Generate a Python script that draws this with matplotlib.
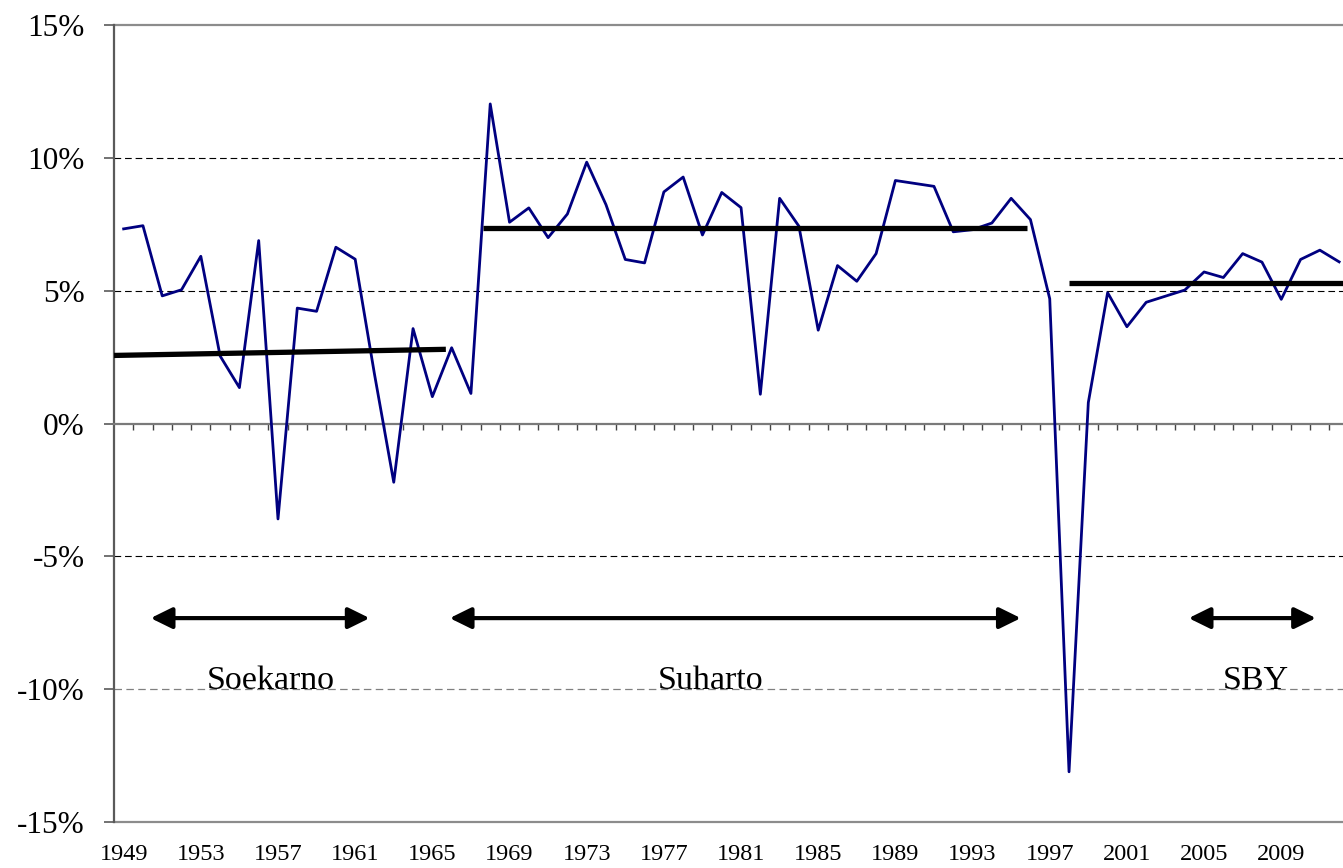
import matplotlib.pyplot as plt
from matplotlib.ticker import FixedLocator, FuncFormatter
import numpy as np

# annual GDP growth, Indonesia (%)
years = np.arange(1949, 2013)
growth = [7.32, 7.44, 4.80, 5.03, 6.29, 2.54, 1.35, 6.88, -3.59, 4.34,
          4.22, 6.63, 6.18, 1.86, -2.21, 3.57, 1.01, 2.85, 1.13, 12.02,
          7.57, 8.11, 6.99, 7.88, 9.83, 8.23, 6.17, 6.04, 8.71, 9.27,
          7.09, 8.69, 8.12, 1.10, 8.47, 7.42, 3.51, 5.94, 5.35, 6.39,
          9.14, 9.03, 8.92, 7.21, 7.29, 7.54, 8.47, 7.67, 4.69, -13.10,
          0.79, 4.92, 3.64, 4.56, 4.79, 5.02, 5.70, 5.49, 6.39, 6.07,
          4.67, 6.17, 6.52, 6.08]

# average-growth lines per era: (x start, x end), (y start, y end)
era_avg_x = [(1948.5, 1965.7), (1967.6, 1995.8), (1998.0, 2012.2)]
era_avg_y = [(2.56, 2.79), (7.36, 7.36), (5.29, 5.29)]

# era arrows and names
era_names = ["Soekarno", "Suharto", "SBY"]
era_arrow_x = [(1950.4, 1961.75), (1965.9, 1995.5), (2004.2, 2010.8)]
era_label_x = [1956.6, 1979.4, 2007.7]
arrow_y = -7.32
label_y = -10

yticks = [-15, -10, -5, 0, 5, 10, 15]
xlabels = list(range(1949, 2013, 4))

plt.rcParams['font.family'] = ['Liberation Serif', 'DejaVu Serif']

fig = plt.figure(figsize=(13.43, 8.68), dpi=100)
ax = fig.add_axes([114/1343, (868-822.3)/868, 1-114/1343, (822.3-24.7)/868])

ax.set_xlim(1948.5, 2012.2)
ax.set_ylim(-15, 15)

# gridlines
for g in [10, 5, -5]:
    ax.axhline(g, color='black', lw=0.8, ls=(0, (6, 3.5)), zorder=1)
ax.axhline(-10, color='#808080', lw=0.9, ls=(0, (6, 3.5)), zorder=1)
ax.axhline(15, color='#8c8c8c', lw=1.6, zorder=1, clip_on=False)
ax.axhline(-15, color='#8c8c8c', lw=1.6, zorder=1, clip_on=False)

# series
ax.plot(years, growth, color='#000080', lw=2.0, zorder=3)

for (x0, x1), (y0, y1) in zip(era_avg_x, era_avg_y):
    ax.plot([x0, x1], [y0, y1], color='black', lw=3.8,
            solid_capstyle='butt', zorder=4, clip_on=False)

for (x0, x1), name, lx in zip(era_arrow_x, era_names, era_label_x):
    ax.annotate('', xy=(x1, arrow_y), xytext=(x0, arrow_y),
                arrowprops=dict(arrowstyle='<|-|>,head_length=0.65,head_width=0.32',
                                mutation_scale=20, lw=3, color='black',
                                shrinkA=0, shrinkB=0), zorder=5)
    ax.text(lx, label_y, name, ha='center', va='baseline', fontsize=24.5, zorder=5)

# axes styling
for s in ['top', 'right']:
    ax.spines[s].set_visible(False)
ax.spines['left'].set_color('#5a5a5a')
ax.spines['left'].set_linewidth(1.6)
ax.spines['bottom'].set_position(('data', 0))
ax.spines['bottom'].set_color('#7a7a7a')
ax.spines['bottom'].set_linewidth(1.6)

ax.yaxis.set_major_locator(FixedLocator(yticks))
ax.yaxis.set_major_formatter(FuncFormatter(lambda v, p: "%d%%" % v))
ax.tick_params(axis='y', direction='out', length=7, width=1.2, color='#5a5a5a',
               labelsize=22.5, pad=14)

ax.xaxis.set_major_locator(FixedLocator(xlabels))
ax.xaxis.set_minor_locator(FixedLocator(np.arange(1949.5, 2012.5, 1.0)))
ax.xaxis.set_major_formatter(FuncFormatter(lambda v, p: "%d" % v))
ax.tick_params(axis='x', which='major', length=0, labelsize=17.5, pad=303)
ax.tick_params(axis='x', which='minor', direction='out', length=4.5, width=1.0,
               color='#444444')

fig.savefig('out.png', dpi=100)
